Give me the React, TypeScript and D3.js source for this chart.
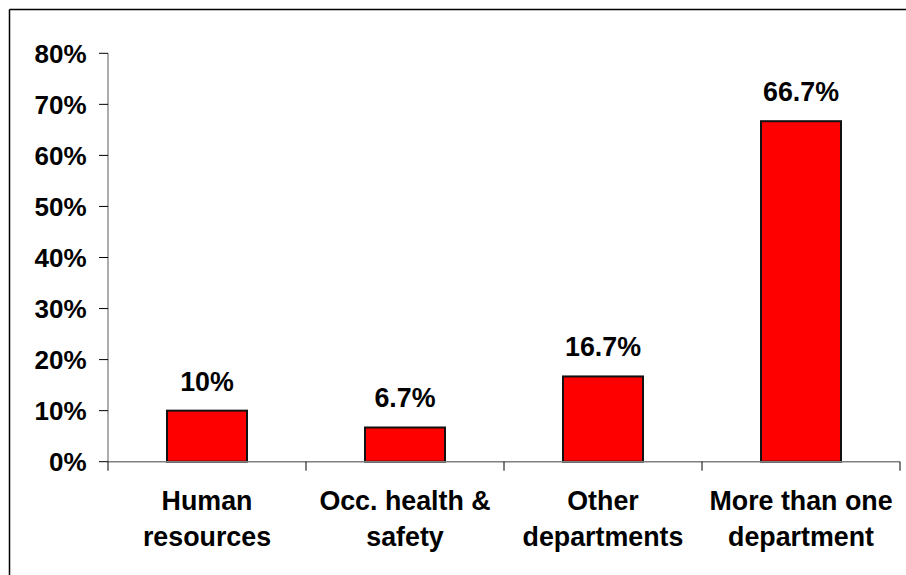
import React from "react";
import * as d3 from "d3";

const categories: string[][] = [
  ["Human", "resources"],
  ["Occ. health &", "safety"],
  ["Other", "departments"],
  ["More than one", "department"],
];
const values: number[] = [10, 6.7, 16.7, 66.7];
const valueLabels: string[] = ["10%", "6.7%", "16.7%", "66.7%"];
const yTicks: number[] = [0, 10, 20, 30, 40, 50, 60, 70, 80];

const W = 906;
const H = 575;
const left = 108;
const right = 900;
const top = 53.3;
const bottom = 461.7;
const FONT = "'Liberation Sans', Arial, sans-serif";

export default function App() {
  const keys = categories.map((c) => c.join(" "));
  const x = d3.scaleBand<string>().domain(keys).range([left, right]).padding(0);
  const y = d3.scaleLinear().domain([0, 80]).range([bottom, top]);
  const bw = x.bandwidth() * 0.404;
  const tickEdges = [...keys.map((k) => x(k) as number), right];

  return (
    <svg
      width={W}
      height={H}
      style={{ position: "absolute", left: 0, top: 0 }}
      fontFamily={FONT}
    >
      <rect x={0} y={0} width={W} height={H} fill="#fff" />
      <line x1={9.5} y1={9.5} x2={W} y2={9.5} stroke="#000" strokeWidth={1.5} />
      <line x1={9.5} y1={9.5} x2={9.5} y2={H} stroke="#000" strokeWidth={1.5} />

      {/* y axis */}
      <line x1={left} y1={top} x2={left} y2={bottom} stroke="#808080" strokeWidth={1.3} />
      {yTicks.map((t) => (
        <g key={t}>
          <line x1={left - 9} x2={left} y1={y(t)} y2={y(t)} stroke="#000" strokeWidth={1} />
          <text
            x={86.5}
            y={y(t)}
            dy="0.36em"
            textAnchor="end"
            fontSize={26}
            fontWeight="bold"
          >
            {t}%
          </text>
        </g>
      ))}

      {/* bars */}
      {values.map((v, i) => {
        const cx = (x(keys[i]) as number) + x.bandwidth() / 2;
        return (
          <g key={i}>
            <rect
              x={cx - bw / 2}
              y={y(v)}
              width={bw}
              height={bottom - y(v)}
              fill="#ff0000"
              stroke="#111"
              strokeWidth={2}
            />
            <text
              x={cx}
              y={y(v) - 20}
              textAnchor="middle"
              fontSize={26.8}
              fontWeight="bold"
            >
              {valueLabels[i]}
            </text>
          </g>
        );
      })}

      {/* x axis */}
      <line x1={left} y1={bottom} x2={right} y2={bottom} stroke="#808080" strokeWidth={1.5} />
      {tickEdges.map((tx, i) => (
        <line key={i} x1={tx} x2={tx} y1={bottom} y2={bottom + 9} stroke="#000" strokeWidth={1} />
      ))}
      {categories.map((lines, i) => {
        const cx = (x(keys[i]) as number) + x.bandwidth() / 2;
        return (
          <text key={i} textAnchor="middle" fontSize={26.8} fontWeight="bold">
            {lines.map((l, j) => (
              <tspan key={j} x={cx} y={509.5 + j * 36}>
                {l}
              </tspan>
            ))}
          </text>
        );
      })}
    </svg>
  );
}
